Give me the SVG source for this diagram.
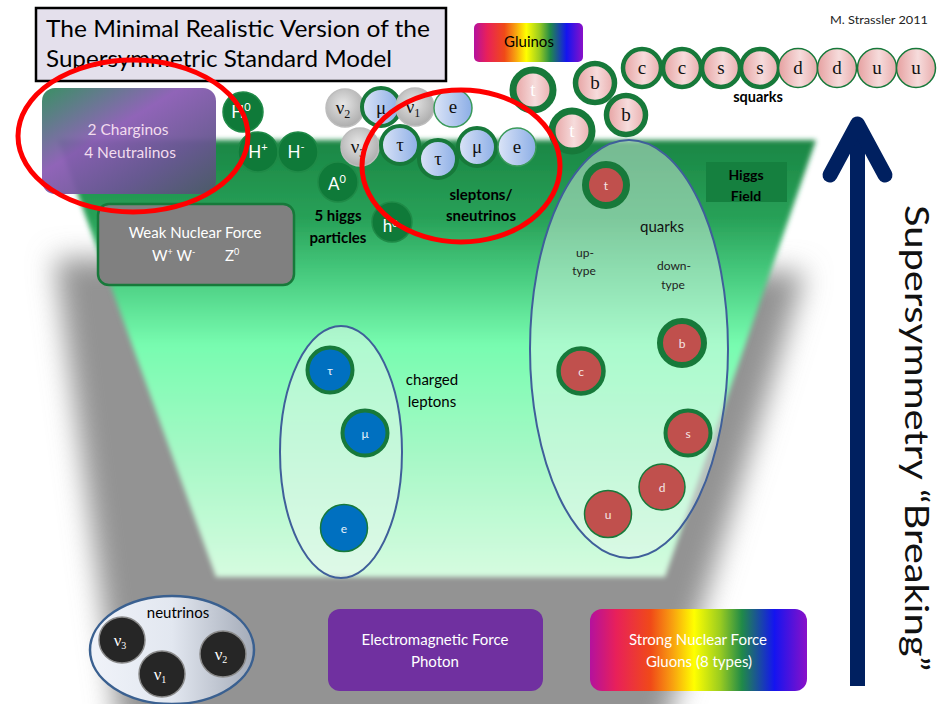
<svg xmlns="http://www.w3.org/2000/svg" width="939" height="704" viewBox="0 0 939 704">
<defs>
<style>
.sans{font-family:Lato,"Open Sans","Liberation Sans",sans-serif}
.serif{font-family:"Liberation Serif","DejaVu Serif",serif}
.b{font-weight:bold}
.lbl{font-family:Lato,"Open Sans","Liberation Sans",sans-serif;font-size:15px;fill:#000}
.wl{font-family:Lato,"Open Sans","Liberation Sans",sans-serif;font-size:15px;fill:#fff}
.sq{stroke:#17793a}
.thick{stroke-width:4.5}
.thin{stroke-width:1.5}
.sqt{font-family:"Liberation Serif",serif;font-size:19px;fill:#111;text-anchor:middle}
.hig{fill:#0f7a39;stroke:#1f8a47;stroke-width:1.5}
.higt{font-family:Lato,"Liberation Sans",sans-serif;font-size:17px;fill:#fff;text-anchor:middle}
.gray{fill:url(#grayG);stroke:#bdbdbd;stroke-width:1.5}
.blue{fill:url(#blueG)}
.slt{font-family:"Liberation Serif",serif;font-size:19px;fill:#111;text-anchor:middle}
.qk{fill:#c0504d;stroke:#17793a}
.qt{font-family:Lato,"Liberation Sans",sans-serif;font-size:12px;fill:#f4e6e6;text-anchor:middle}
.lep{fill:#0070c0;stroke:#17793a}
.nu{fill:#262626;stroke:#8a8a8a;stroke-width:1.5}
.nut{font-family:"Liberation Serif",serif;font-size:17px;fill:#fff;text-anchor:middle}
.red{fill:none;stroke:#ff0000;stroke-width:5}
.mid{text-anchor:middle}
</style>
<filter id="shadowBlur" filterUnits="userSpaceOnUse" x="-200" y="0" width="1400" height="1000"><feGaussianBlur stdDeviation="14"/></filter>
<filter id="soft" filterUnits="userSpaceOnUse" x="0" y="100" width="939" height="520"><feGaussianBlur stdDeviation="2.5"/></filter>
<linearGradient id="greenG" gradientUnits="userSpaceOnUse" x1="0" y1="140" x2="0" y2="577">
<stop offset="0" stop-color="#1a8644"/>
<stop offset="0.18" stop-color="#28a158"/>
<stop offset="0.3" stop-color="#45c87c"/>
<stop offset="0.47" stop-color="#78fcb0"/>
<stop offset="0.72" stop-color="#a6f8c6"/>
<stop offset="1" stop-color="#d6fbe0"/>
</linearGradient>
<linearGradient id="rainbow" x1="0" y1="0" x2="1" y2="0">
<stop offset="0" stop-color="#b4119e"/>
<stop offset="0.12" stop-color="#e8205a"/>
<stop offset="0.28" stop-color="#f04a18"/>
<stop offset="0.38" stop-color="#f8a010"/>
<stop offset="0.48" stop-color="#ffff00"/>
<stop offset="0.6" stop-color="#9acc20"/>
<stop offset="0.7" stop-color="#208a48"/>
<stop offset="0.85" stop-color="#1414f0"/>
<stop offset="1" stop-color="#8a10c8"/>
</linearGradient>
<linearGradient id="chargG" x1="0" y1="0" x2="1" y2="1">
<stop offset="0" stop-color="#2f8a5c"/>
<stop offset="0.4" stop-color="#8a5cb4"/>
<stop offset="0.7" stop-color="#6a5694"/>
<stop offset="1" stop-color="#4c5868"/>
</linearGradient>
<linearGradient id="pinkG" x1="0" y1="0" x2="1" y2="0">
<stop offset="0" stop-color="#e6a0a0"/>
<stop offset="0.55" stop-color="#f6dcdc"/>
<stop offset="1" stop-color="#e9acac"/>
</linearGradient>
<radialGradient id="grayG" cx="0.45" cy="0.4" r="0.65">
<stop offset="0" stop-color="#e6e6e6"/>
<stop offset="1" stop-color="#a9a9a9"/>
</radialGradient>
<linearGradient id="blueG" x1="0" y1="0" x2="1" y2="0">
<stop offset="0" stop-color="#dbe4f7"/>
<stop offset="1" stop-color="#8caee6"/>
</linearGradient>
<linearGradient id="nuEll" x1="0" y1="0" x2="1" y2="0">
<stop offset="0" stop-color="#f0f3f9"/>
<stop offset="0.5" stop-color="#e2e7f0"/>
<stop offset="1" stop-color="#a4abb8"/>
</linearGradient>
</defs>

<rect width="939" height="704" fill="#ffffff"/>

<!-- background shapes -->
<g id="background">
<polygon points="55,258 805,272 652,770 125,770" fill="#939393" filter="url(#shadowBlur)"/>
<polygon points="58,140 816,140 665,577 216,577" fill="url(#greenG)" filter="url(#soft)"/>
</g>

<g id="title">
<rect x="36" y="8" width="410" height="73" fill="#e4e0ec" stroke="#000" stroke-width="2.5"/>
<text class="sans" x="46" y="37" font-size="23" fill="#000" textLength="384" lengthAdjust="spacingAndGlyphs">The Minimal Realistic  Version of the</text>
<text class="sans" x="46" y="67" font-size="23" fill="#000" textLength="346" lengthAdjust="spacingAndGlyphs">Supersymmetric Standard Model</text>
</g>

<g id="author">
<text class="sans" x="830" y="24" font-size="11.5" fill="#222" textLength="98" lengthAdjust="spacingAndGlyphs">M. Strassler  2011</text>
</g>

<g id="gluinos">
<rect x="474" y="23" width="109" height="39" rx="5" fill="url(#rainbow)"/>
<text class="sans mid" x="529" y="47" font-size="15" fill="#000">Gluinos</text>
</g>

<g id="squarks">
<circle cx="642" cy="68" r="19" fill="url(#pinkG)" class="sq thick"/>
<circle cx="682" cy="68" r="19" fill="url(#pinkG)" class="sq thick"/>
<circle cx="721" cy="68" r="19" fill="url(#pinkG)" class="sq thick"/>
<circle cx="760" cy="68" r="19" fill="url(#pinkG)" class="sq thick"/>
<circle cx="798" cy="68" r="19.5" fill="url(#pinkG)" class="sq thin"/>
<circle cx="837" cy="68" r="19.5" fill="url(#pinkG)" class="sq thin"/>
<circle cx="877" cy="68" r="19.5" fill="url(#pinkG)" class="sq thin"/>
<circle cx="916" cy="68" r="19.5" fill="url(#pinkG)" class="sq thin"/>
<text class="sqt" x="642" y="74">c</text>
<text class="sqt" x="682" y="74">c</text>
<text class="sqt" x="721" y="74">s</text>
<text class="sqt" x="760" y="74">s</text>
<text class="sqt" x="798" y="74">d</text>
<text class="sqt" x="837" y="74">d</text>
<text class="sqt" x="877" y="74">u</text>
<text class="sqt" x="916" y="74">u</text>
<text class="sans b mid" x="758" y="102" font-size="14.5" fill="#000">squarks</text>
</g>

<g id="stops-sbottoms">
<circle cx="533" cy="90" r="20" fill="url(#pinkG)" class="sq" stroke-width="7"/>
<circle cx="595" cy="83" r="19.5" fill="url(#pinkG)" class="sq" stroke-width="5.5"/>
<circle cx="626" cy="115" r="19.5" fill="url(#pinkG)" class="sq" stroke-width="5.5"/>
<circle cx="572" cy="131" r="20" fill="url(#pinkG)" class="sq" stroke-width="7"/>
<text class="sqt" x="533" y="96" style="fill:#fff">t</text>
<text class="sqt" x="572" y="137" style="fill:#fff">t</text>
<text class="sqt" x="595" y="89">b</text>
<text class="sqt" x="626" y="121">b</text>
</g>

<g id="charginos">
<rect x="42" y="88" width="174" height="106" rx="13" fill="url(#chargG)" opacity="0.95"/>
<text class="sans mid" x="128" y="135" font-size="15.5" fill="#f2dcee">2 Charginos</text>
<text class="sans mid" x="130" y="158" font-size="15.5" fill="#f2dcee">4 Neutralinos</text>
</g>

<g id="higgs">
<circle cx="243" cy="112" r="20" class="hig"/>
<circle cx="258" cy="152" r="20" class="hig"/>
<circle cx="298" cy="152" r="20" class="hig"/>
<circle cx="338" cy="182" r="20" class="hig"/>
<circle cx="392" cy="222" r="20" class="hig"/>
<text class="higt" x="241" y="118">H<tspan font-size="11" dy="-7">0</tspan></text>
<text class="higt" x="258" y="158">H<tspan font-size="11" dy="-7">+</tspan></text>
<text class="higt" x="296" y="158">H<tspan font-size="11" dy="-7">-</tspan></text>
<text class="higt" x="337" y="190">A<tspan font-size="11" dy="-7">0</tspan></text>
<text class="higt" x="390" y="232" font-size="13">h<tspan font-size="9" dy="-5">0</tspan></text>
<text class="sans b mid" x="338" y="221" font-size="15" fill="#000">5 higgs</text>
<text class="sans b mid" x="338" y="243" font-size="15" fill="#000">particles</text>
</g>

<g id="sleptons">
<circle cx="345" cy="108" r="19" class="gray"/>
<circle cx="381" cy="107" r="19" class="blue" stroke="#17793a" stroke-width="4"/>
<circle cx="415" cy="107" r="19" class="gray"/>
<circle cx="453" cy="108" r="19" class="blue" stroke="#3a9a5a" stroke-width="1.5"/>
<circle cx="360" cy="147" r="19" class="gray"/>
<circle cx="400" cy="145" r="19" class="blue" stroke="#17793a" stroke-width="4"/>
<circle cx="438" cy="159" r="19" class="blue" stroke="#17793a" stroke-width="4"/>
<circle cx="477" cy="147" r="19" class="blue" stroke="#17793a" stroke-width="4"/>
<circle cx="517" cy="147" r="19" class="blue" stroke="#3a9a5a" stroke-width="1.5"/>
<text class="slt" x="343" y="114" font-size="21">ν<tspan font-size="12" dy="4">2</tspan></text>
<text class="slt" x="381" y="114">μ</text>
<text class="slt" x="413" y="113" font-size="21">ν<tspan font-size="12" dy="4">1</tspan></text>
<text class="slt" x="453" y="113">e</text>
<text class="slt" x="358" y="153" font-size="21">ν<tspan font-size="12" dy="4">3</tspan></text>
<text class="slt" x="400" y="151">τ</text>
<text class="slt" x="438" y="165">τ</text>
<text class="slt" x="477" y="153">μ</text>
<text class="slt" x="517" y="153">e</text>
<text class="sans b mid" x="481" y="200" font-size="15" fill="#000">sleptons/</text>
<text class="sans b mid" x="481" y="221" font-size="15" fill="#000">sneutrinos</text>
</g>

<g id="weak-force">
<rect x="98" y="204" width="196" height="81" rx="11" fill="#808080" stroke="#17793a" stroke-width="2.5"/>
<text class="wl mid" x="195" y="238" font-size="15.5">Weak Nuclear Force</text>
<text class="wl" x="152" y="261" font-size="15">W<tspan font-size="9" dy="-6">+</tspan><tspan dy="6"> W</tspan><tspan font-size="9" dy="-6">-</tspan></text>
<text class="wl" x="225" y="261" font-size="15">Z<tspan font-size="9" dy="-6">0</tspan></text>
</g>

<g id="higgs-field">
<rect x="706" y="162" width="81" height="40" fill="#15803f"/>
<text class="sans b mid" x="746" y="180" font-size="14" fill="#000">Higgs</text>
<text class="sans b mid" x="746" y="201" font-size="14" fill="#000">Field</text>
</g>

<g id="quarks">
<ellipse cx="629" cy="349" rx="99" ry="209" fill="#e6f8f0" fill-opacity="0.45" stroke="#3f5f9a" stroke-width="2"/>
<text class="sans mid" x="662" y="232" font-size="15" fill="#111">quarks</text>
<text class="sans mid" x="585" y="257" font-size="12" fill="#222">up-</text>
<text class="sans mid" x="584" y="275" font-size="12" fill="#222">type</text>
<text class="sans mid" x="674" y="270" font-size="12" fill="#222">down-</text>
<text class="sans mid" x="673" y="289" font-size="12" fill="#222">type</text>
<circle cx="606" cy="185" r="20.5" class="qk" stroke-width="7"/>
<circle cx="682" cy="343" r="22" class="qk" stroke-width="6"/>
<circle cx="581" cy="371" r="22.5" class="qk" stroke-width="4.5"/>
<circle cx="688" cy="433" r="22.5" class="qk" stroke-width="4"/>
<circle cx="662" cy="487" r="23" class="qk" stroke-width="1.5"/>
<circle cx="608" cy="514" r="23.5" class="qk" stroke-width="1.5"/>
<text class="qt" x="606" y="190">t</text>
<text class="qt" x="682" y="348">b</text>
<text class="qt" x="581" y="376">c</text>
<text class="qt" x="688" y="438">s</text>
<text class="qt" x="662" y="492">d</text>
<text class="qt" x="608" y="519">u</text>
</g>

<g id="charged-leptons">
<ellipse cx="341" cy="452" rx="61" ry="126" fill="#e8f8f0" fill-opacity="0.5" stroke="#3f5f9a" stroke-width="2"/>
<circle cx="330" cy="370" r="22.5" class="lep" stroke-width="4"/>
<circle cx="365" cy="433" r="22.5" class="lep" stroke-width="4"/>
<circle cx="344" cy="528" r="23.5" class="lep" stroke-width="1.5"/>
<text class="qt" x="330" y="375" style="fill:#e8f0fa">τ</text>
<text class="qt" x="365" y="438" style="fill:#e8f0fa">μ</text>
<text class="qt" x="344" y="533" style="fill:#e8f0fa">e</text>
<text class="lbl mid" x="432" y="385">charged</text>
<text class="lbl mid" x="432" y="407">leptons</text>
</g>

<g id="neutrinos">
<ellipse cx="172" cy="650" rx="82" ry="54" fill="url(#nuEll)" stroke="#3a6090" stroke-width="2.5"/>
<text class="lbl mid" x="178" y="618">neutrinos</text>
<circle cx="122" cy="640" r="23" class="nu"/>
<circle cx="162" cy="674" r="23" class="nu"/>
<circle cx="223" cy="654" r="23" class="nu"/>
<text class="nut" x="120" y="646">ν<tspan font-size="10" dy="3">3</tspan></text>
<text class="nut" x="160" y="680">ν<tspan font-size="10" dy="3">1</tspan></text>
<text class="nut" x="221" y="660">ν<tspan font-size="10" dy="3">2</tspan></text>
</g>

<g id="em-force">
<rect x="328" y="609" width="215" height="82" rx="12" fill="#7030a0"/>
<text class="wl mid" x="435" y="645" font-size="15.5">Electromagnetic Force</text>
<text class="wl mid" x="435" y="667" font-size="15.5">Photon</text>
</g>

<g id="strong-force">
<rect x="590" y="609" width="217" height="82" rx="12" fill="url(#rainbow)"/>
<text class="wl mid" x="698" y="645" font-size="15.5">Strong Nuclear Force</text>
<text class="wl mid" x="699" y="667" font-size="15.5">Gluons (8 types)</text>
</g>

<g id="highlights">
<ellipse cx="133" cy="136" rx="115" ry="76" class="red"/>
<ellipse cx="461" cy="166" rx="99" ry="76" class="red"/>
</g>

<g id="connectors">
<line x1="857.5" y1="128" x2="857.5" y2="686" stroke="#002060" stroke-width="15"/>
<polyline points="830,175 857.5,124 885,175" fill="none" stroke="#002060" stroke-width="15" stroke-linecap="round" stroke-linejoin="round"/>
</g>

<g id="axis-label">
<text class="sans" transform="translate(905,205) rotate(90)" x="0" y="0" font-size="32" fill="#111" textLength="466" lengthAdjust="spacingAndGlyphs">Supersymmetry “Breaking”</text>
</g>
</svg>
